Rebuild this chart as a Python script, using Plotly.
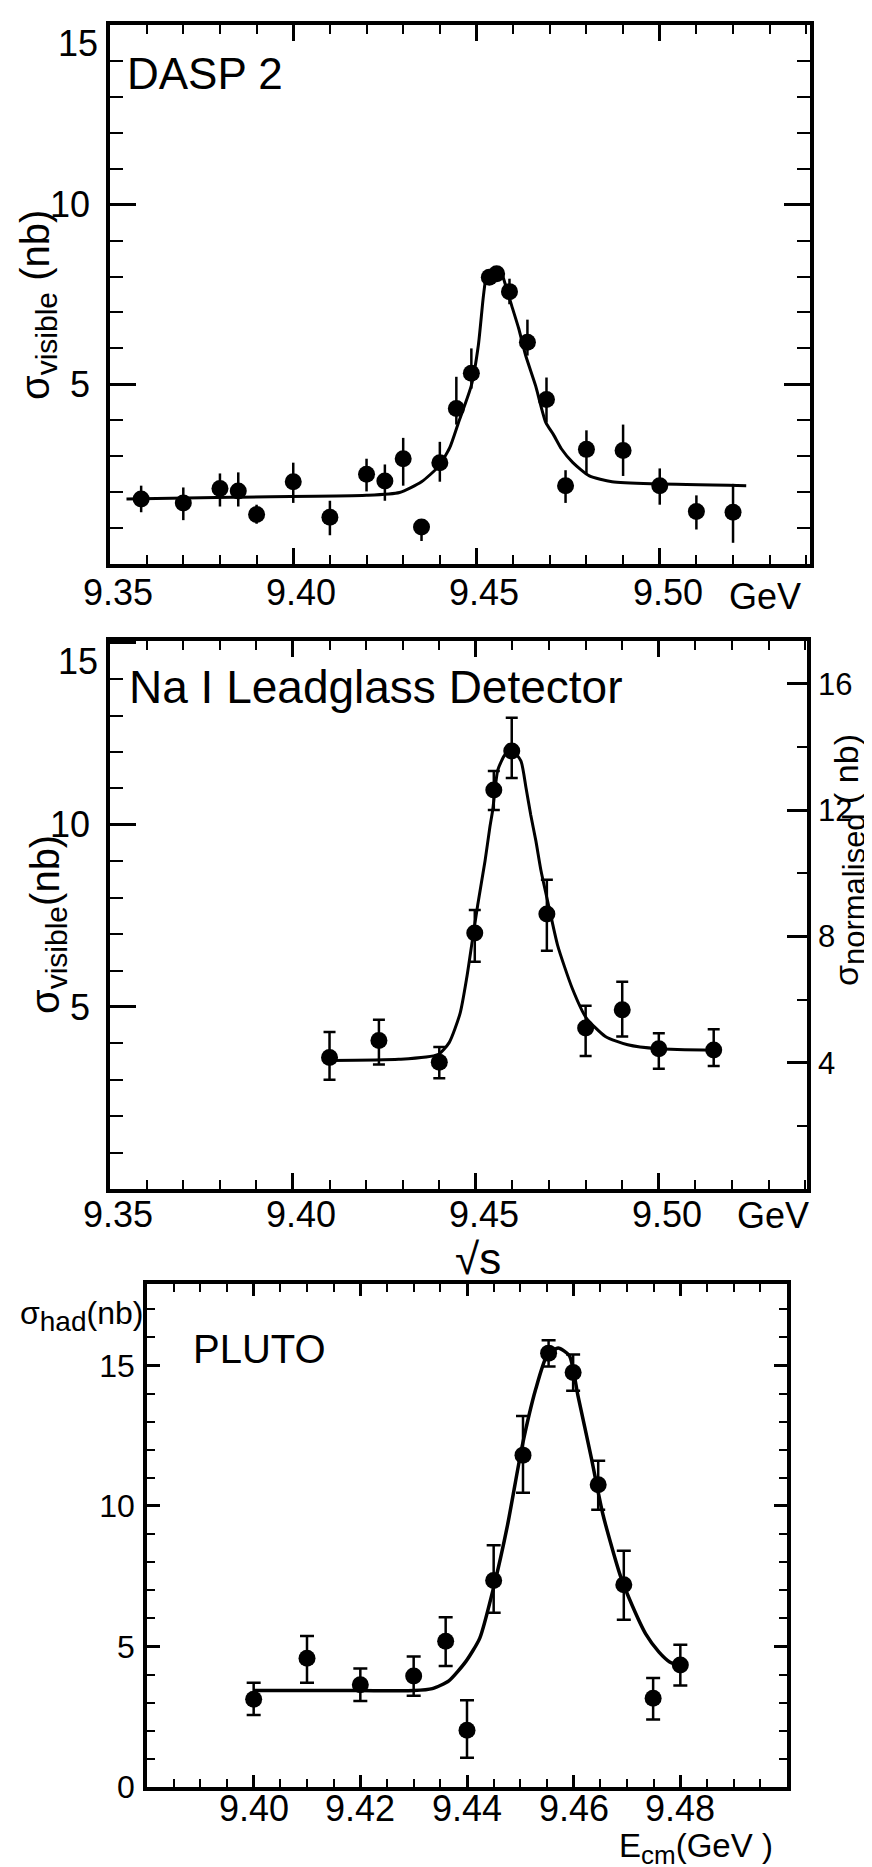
import plotly.graph_objects as go

W, H = 872, 1867

# ---- DASP 2 ----
dasp_x = [9.3585, 9.370, 9.380, 9.385, 9.390, 9.400, 9.410, 9.420, 9.425, 9.430, 9.435, 9.440, 9.4445,
          9.4486, 9.4535, 9.4555, 9.459, 9.4639, 9.4691, 9.4743, 9.480, 9.490, 9.500, 9.510, 9.520]
dasp_y = [1.81, 1.70, 2.10, 2.03, 1.38, 2.29, 1.30, 2.50, 2.31, 2.93, 1.03, 2.82, 4.33,
          5.31, 7.98, 8.08, 7.58, 6.17, 4.58, 2.18, 3.19, 3.16, 2.18, 1.46, 1.44]
dasp_hi = [0.37, 0.43, 0.42, 0.52, 0.27, 0.53, 0.46, 0.43, 0.46, 0.58, 0.14, 0.58, 0.88,
           0.69, 0.20, 0.20, 0.36, 0.63, 0.61, 0.43, 0.53, 0.72, 0.48, 0.45, 0.79]
dasp_lo = [0.37, 0.48, 0.50, 0.43, 0.26, 0.59, 0.50, 0.48, 0.55, 0.75, 0.39, 0.53, 0.45,
           0.43, 0.20, 0.20, 0.35, 0.37, 0.64, 0.48, 0.69, 0.71, 0.53, 0.50, 0.85]
dasp_fit_x = [9.3545, 9.383, 9.420, 9.429, 9.435, 9.4396, 9.4427, 9.4451, 9.4486, 9.4505, 9.4519, 9.4527,
              9.4540, 9.4555, 9.4567, 9.4574, 9.4596, 9.4615, 9.4634, 9.4661, 9.4689, 9.4710, 9.4732,
              9.4763, 9.4808, 9.487, 9.4992, 9.5236]
dasp_fit_y = [1.81, 1.86, 1.91, 1.99, 2.29, 2.71, 3.24, 3.94, 4.97, 6.08, 7.47, 8.00,
              8.15, 8.20, 8.15, 7.94, 7.19, 6.56, 5.81, 4.97, 3.94, 3.60, 3.20,
              2.82, 2.45, 2.29, 2.23, 2.18]

# ---- NaI Leadglass ----
nai_x = [9.410, 9.4235, 9.440, 9.4497, 9.4549, 9.4598, 9.4694, 9.480, 9.490, 9.500, 9.515]
nai_y = [3.61, 4.08, 3.48, 7.03, 10.96, 12.03, 7.55, 4.42, 4.92, 3.85, 3.82]
nai_hi = [0.70, 0.57, 0.42, 0.63, 0.52, 0.91, 0.94, 0.61, 0.77, 0.43, 0.57]
nai_lo = [0.61, 0.66, 0.44, 0.79, 0.55, 0.74, 1.01, 0.77, 0.73, 0.55, 0.44]
nai_fit_x = [9.4102, 9.4289, 9.4396, 9.4427, 9.4457, 9.4475, 9.4490, 9.4505, 9.4525, 9.4538, 9.4546,
             9.4560, 9.4579, 9.4598, 9.4623, 9.4637, 9.4650, 9.4664, 9.4678, 9.4694, 9.4705, 9.4724,
             9.4763, 9.4801, 9.4854, 9.4915, 9.4999, 9.5152]
nai_fit_y = [3.53, 3.56, 3.69, 4.02, 4.83, 5.80, 6.80, 7.80, 9.01, 9.92, 10.41,
             11.51, 11.92, 12.06, 11.76, 11.02, 10.27, 9.56, 8.74, 8.00, 7.50, 6.67,
             5.52, 4.71, 4.19, 3.96, 3.85, 3.81]
norm_factor = 1.153  # sigma_normalised / sigma_visible

# ---- PLUTO ----
pluto_x = [9.400, 9.410, 9.420, 9.430, 9.436, 9.440, 9.445, 9.4505, 9.4553, 9.4599, 9.4646, 9.4694, 9.4749, 9.480]
pluto_y = [3.12, 4.58, 3.64, 3.95, 5.19, 2.02, 7.35, 11.81, 15.44, 14.75, 10.76, 7.20, 3.16, 4.34]
pluto_hi = [0.59, 0.79, 0.58, 0.69, 0.85, 1.07, 1.25, 1.39, 0.46, 0.64, 0.85, 1.21, 0.72, 0.72]
pluto_lo = [0.56, 0.87, 0.58, 0.70, 0.88, 0.98, 1.15, 1.34, 0.48, 0.65, 0.89, 1.25, 0.76, 0.73]
pluto_fit_x = [9.400, 9.410, 9.420, 9.430, 9.4335, 9.4366, 9.4398, 9.4424, 9.445, 9.4476, 9.4503, 9.4529,
               9.455, 9.4571, 9.4592, 9.4608, 9.4633, 9.4655, 9.4687, 9.4710, 9.4735, 9.4760, 9.4780, 9.4801]
pluto_fit_y = [3.43, 3.43, 3.43, 3.43, 3.50, 3.78, 4.47, 5.30, 7.11, 9.32, 12.09, 14.17,
               15.35, 15.62, 15.35, 13.93, 11.72, 9.69, 7.55, 6.45, 5.45, 4.80, 4.45, 4.30]

top_ticks = [9.35, 9.40, 9.45, 9.50]
top_labels = ["9.35", "9.40", "9.45", "9.50"]
vis_ticks = [5, 10, 15]
vis_labels = ["5", "10", "15"]
norm_ticks = [4, 8, 12, 16]
pluto_ticks = [9.40, 9.42, 9.44, 9.46, 9.48]
pluto_labels = ["9.40", "9.42", "9.44", "9.46", "9.48"]
had_ticks = [0, 5, 10, 15]

FONT = "Liberation Sans"
NARROW = "Liberation Sans Narrow, Liberation Sans"


def px(x):
    return x / W


def py(y):
    return 1 - y / H


def sub(t, size):
    return "<sub><span style='font-size:%dpx'>%s</span></sub>" % (size, t)


def add_panel(fig, xs, ys, hi, lo, fx, fy, xa, ya, cap, lw):
    fig.add_trace(go.Scatter(x=fx, y=fy, mode="lines", xaxis=xa, yaxis=ya,
                             line=dict(color="black", width=lw, shape="spline", smoothing=0.6),
                             hoverinfo="skip"))
    fig.add_trace(go.Scatter(x=xs, y=ys, mode="markers", xaxis=xa, yaxis=ya,
                             marker=dict(color="black", size=17),
                             error_y=dict(type="data", array=hi, arrayminus=lo, color="black",
                                          thickness=2.5, width=cap)))


fig = go.Figure()
add_panel(fig, dasp_x, dasp_y, dasp_hi, dasp_lo, dasp_fit_x, dasp_fit_y, "x", "y", 0, 3)
add_panel(fig, nai_x, nai_y, nai_hi, nai_lo, nai_fit_x, nai_fit_y, "x2", "y2", 6, 3)
add_panel(fig, pluto_x, pluto_y, pluto_hi, pluto_lo, pluto_fit_x, pluto_fit_y, "x3", "y3", 7, 3.5)
# invisible copy on the normalised scale so the right-hand axis is drawn
fig.add_trace(go.Scatter(x=nai_x, y=[v * norm_factor for v in nai_y], mode="markers",
                         xaxis="x2", yaxis="y4", marker=dict(opacity=0), hoverinfo="skip"))

axis_common = dict(showline=True, linewidth=3.5, linecolor="black", showgrid=False, zeroline=False,
                   ticks="inside", tickcolor="black", tickwidth=2.5, automargin=False)

xlab = dict(tickvals=top_ticks, ticklen=16, showticklabels=False,
            minor=dict(tick0=9.35, dtick=0.01, ticks="inside", ticklen=9, tickwidth=2, tickcolor="black"),
            mirror="ticks")
ylab = dict(tickvals=vis_ticks, ticktext=vis_labels[:-1] + [""], ticklen=26, ticklabelstandoff=9,
            tickfont=dict(family=FONT, size=36, color="black"),
            minor=dict(tick0=0, dtick=1, ticks="inside", ticklen=13, tickwidth=2, tickcolor="black"))

fig.update_layout(
    width=W, height=H, margin=dict(l=0, r=0, t=0, b=0),
    paper_bgcolor="white", plot_bgcolor="white", showlegend=False,
    xaxis=dict(domain=[px(102), px(802)], anchor="y", range=[9.35, 9.541], **axis_common, **xlab),
    yaxis=dict(domain=[py(556), py(17)], anchor="x", range=[0, 15], mirror="ticks",
               **axis_common, **ylab),
    xaxis2=dict(domain=[px(102), px(799)], anchor="y2", range=[9.35, 9.5405], **axis_common, **xlab),
    yaxis2=dict(domain=[py(1181), py(633)], anchor="x2", range=[0, 15.05], mirror=False,
                **axis_common, **ylab),
    yaxis4=dict(overlaying="y2", anchor="x2", side="right", range=[0, 15.05 * norm_factor],
                tickvals=norm_ticks, ticklen=20, ticklabelstandoff=1,
                tickfont=dict(family=FONT, size=31, color="black"),
                minor=dict(tick0=0, dtick=2, ticks="inside", ticklen=10, tickwidth=2, tickcolor="black"),
                **axis_common),
    xaxis3=dict(domain=[px(139), px(779)], anchor="y3", range=[9.38, 9.50],
                tickvals=pluto_ticks, ticklen=12, showticklabels=False,
                minor=dict(tick0=9.38, dtick=0.005, ticks="inside", ticklen=8, tickwidth=2, tickcolor="black"),
                mirror="ticks", **axis_common),
    yaxis3=dict(domain=[py(1779), py(1276)], anchor="x3", range=[0, 17.9],
                tickvals=had_ticks, ticklen=13, ticklabelstandoff=2,
                tickfont=dict(family=FONT, size=32, color="black"),
                minor=dict(tick0=0, dtick=1, ticks="inside", ticklen=8, tickwidth=2, tickcolor="black"),
                mirror="ticks", **axis_common),
)

# x tick labels, placed under their ticks
for xa, ya, vals, labs, fam, dx, dy in [
    ("x", "y", top_ticks, top_labels, FONT, 8, -6),
    ("x2", "y2", top_ticks, top_labels, FONT, 8, -3),
    ("x3", "y3", pluto_ticks, pluto_labels, NARROW, 0, 1),
]:
    for v, t in zip(vals, labs):
        fig.add_annotation(text=t, x=v, xref=xa, y=0, yref=ya + " domain", xanchor="center",
                           yanchor="top", xshift=dx, yshift=dy, showarrow=False,
                           font=dict(family=fam, size=36, color="black"))

ann = [
    dict(text="DASP 2", x=px(197), y=py(65), size=44),
    dict(text="Na I Leadglass Detector", x=px(368), y=py(679), size=46),
    dict(text="PLUTO", x=px(251), y=py(1341), size=40),
    dict(text="GeV", x=px(757), y=py(588), size=36),
    dict(text="GeV", x=px(765), y=py(1207), size=36),
    dict(text="√s", x=px(470), y=py(1250), size=44),
    dict(text="E" + sub("cm", 26) + "(GeV )", x=px(688), y=py(1840), size=33),
    dict(text="σ" + sub("had", 28) + "(nb)", x=px(73), y=py(1308), size=32),
    dict(text="σ" + sub("visible", 30) + " (nb)", x=px(30), y=py(297), size=40, angle=-90),
    dict(text="σ" + sub("visible", 30) + "(nb)", x=px(40), y=py(917), size=40, angle=-90),
    dict(text="σ" + sub("normalised", 31) + " ( nb)", x=px(841), y=py(852), size=34, angle=-90),
]
for a in ann:
    fig.add_annotation(text=a["text"], x=a["x"], y=a["y"], xref="paper", yref="paper",
                       xanchor="center", yanchor="middle", showarrow=False,
                       textangle=a.get("angle", 0),
                       font=dict(family=FONT, size=a["size"], color="black"))

# top "15" labels sit just below the corner tick, as in the original
for xa, ya in [("x", "y"), ("x2", "y2")]:
    fig.add_annotation(text=vis_labels[-1], x=0, xref=xa + " domain", y=vis_ticks[-1], yref=ya,
                       xanchor="right", yanchor="top", xshift=-10, yshift=4,
                       showarrow=False, font=dict(family=FONT, size=36, color="black"))

fig.write_html("out.html")
